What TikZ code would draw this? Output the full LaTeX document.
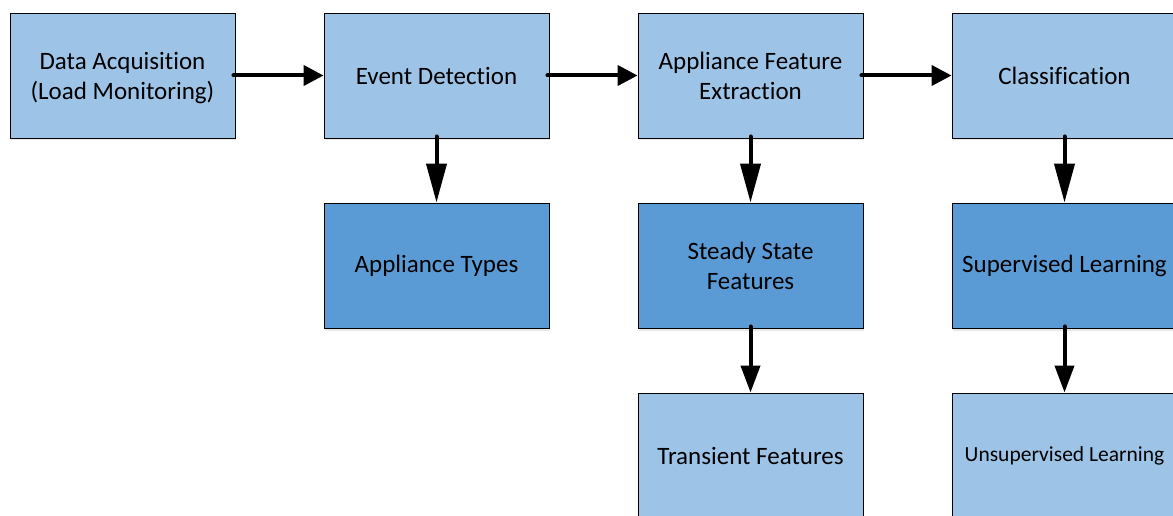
\documentclass[tikz,border=0pt]{standalone}
\usepackage{fontspec}
\setmainfont[Ligatures=NoCommon]{Carlito}
\usetikzlibrary{arrows.meta,shadows,positioning}

\definecolor{lightblue}{HTML}{9DC3E6}
\definecolor{midblue}{HTML}{5B9BD5}

\tikzset{
  stagebox/.style={draw=black, line width=0.9pt, minimum width=225pt,
    minimum height=125pt, inner sep=0pt, align=center,
    font=\fontsize{25}{30}\selectfont,
    drop shadow={shadow xshift=1pt, shadow yshift=-2.5pt, opacity=0.18, fill=gray}},
  lightbox/.style={stagebox, fill=lightblue},
  darkbox/.style={stagebox, fill=midblue},
  flow/.style={line width=4pt, line cap=round,
    -{Triangle[length=20pt, width=20pt]}},
  longflow/.style={flow, -{Triangle[length=39pt, width=20pt]}},
  midflow/.style={flow, -{Triangle[length=27pt, width=19pt]}}
}

\begin{document}
\begin{tikzpicture}[x=1pt, y=-1pt]
  \useasboundingbox (0,0) rectangle (1173,516);
  \clip (0,0) rectangle (1173,516);
  \fill[white] (0,0) rectangle (1173,516);

  % top row: processing stages
  \node[lightbox, text depth=0pt] (acq) at (122.5,75.5) {Data Acquisition\\(Load Monitoring)};
  \node[lightbox] (event) at (436.5,75.5) {Event Detection};
  \node[lightbox] (feat)  at (750.5,75.5) {Appliance Feature\\Extraction};
  \node[lightbox] (cls)   at (1064.5,75.5) {Classification};

  % second row
  \node[darkbox] (types)  at (436.5,265.5) {Appliance Types};
  \node[darkbox] (steady) at (750.5,265.5) {Steady State\\Features};
  \node[darkbox] (sup)    at (1064.5,265.5) {Supervised Learning};

  % third row
  \node[lightbox] (trans) at (750.5,455.5) {Transient Features};
  \node[lightbox, font=\fontsize{21.5}{26}\selectfont] (unsup) at (1064.5,455.5) {Unsupervised Learning};

  % connectors
  \draw[flow] ([xshift=-2pt]acq.east)   -- (event.west);
  \draw[flow] ([xshift=-2pt]event.east) -- (feat.west);
  \draw[flow] ([xshift=-2pt]feat.east)  -- (cls.west);

  \draw[longflow] ([yshift=2pt]event.south) -- (types.north);
  \draw[longflow] ([yshift=2pt]feat.south)  -- (steady.north);
  \draw[longflow] ([yshift=2pt]cls.south)   -- (sup.north);
  \draw[midflow] ([yshift=2pt]steady.south) -- (trans.north);
  \draw[midflow] ([yshift=2pt]sup.south)    -- (unsup.north);
\end{tikzpicture}
\end{document}
